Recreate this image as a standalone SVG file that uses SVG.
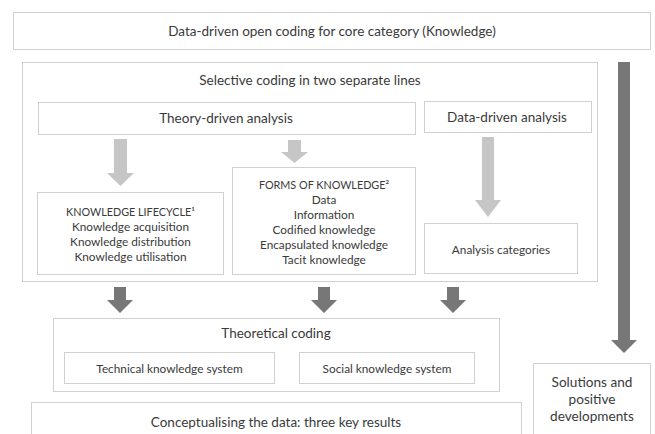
<svg xmlns="http://www.w3.org/2000/svg" width="655" height="434" viewBox="0 0 655 434">
<style>
.box{fill:#ffffff;stroke:#d0d0d0;stroke-width:1}
.t{font-family:Lato,"Open Sans","Liberation Sans",sans-serif;fill:#3a3a3a;text-anchor:middle;dominant-baseline:central}
.m{font-size:13.5px}
.s{font-size:11.8px}
.c{font-size:10.8px}
.l{font-size:13.6px}
.light{fill:#c6c6c6}
.dark{fill:#777777}
</style>
<rect x="0" y="0" width="655" height="434" fill="#ffffff"/>
<g id="open-coding">
<rect class="box" x="13.5" y="12.5" width="637" height="37"/>
<text class="t m" x="332" y="31">Data-driven open coding for core category (Knowledge)</text>
</g>
<g id="selective-coding">
<rect class="box" x="22.5" y="62.5" width="575" height="219"/>
<text class="t m" x="310" y="80">Selective coding in two separate lines</text>
</g>
<g id="theory-driven">
<rect class="box" x="38.5" y="102.5" width="377" height="32"/>
<text class="t m" x="226" y="118">Theory-driven analysis</text>
</g>
<g id="data-driven">
<rect class="box" x="424.5" y="101.5" width="167" height="31"/>
<text class="t m" x="507" y="117">Data-driven analysis</text>
</g>
<g id="lifecycle">
<rect class="box" x="37.5" y="192.5" width="186" height="82"/>
<text class="t c" x="130.5" y="211">KNOWLEDGE LIFECYCLE¹</text>
<text class="t s" x="130.5" y="226">Knowledge acquisition</text>
<text class="t s" x="130.5" y="241">Knowledge distribution</text>
<text class="t s" x="130.5" y="256">Knowledge utilisation</text>
</g>
<g id="forms">
<rect class="box" x="232.5" y="167.5" width="183" height="107"/>
<text class="t c" x="324" y="184">FORMS OF KNOWLEDGE²</text>
<text class="t s" x="324" y="199">Data</text>
<text class="t s" x="324" y="214">Information</text>
<text class="t s" x="324" y="229">Codified knowledge</text>
<text class="t s" x="324" y="244">Encapsulated knowledge</text>
<text class="t s" x="324" y="259">Tacit knowledge</text>
</g>
<g id="analysis-categories">
<rect class="box" x="424.5" y="223.5" width="153" height="50"/>
<text class="t s" x="501" y="249">Analysis categories</text>
</g>
<g id="theoretical-coding">
<rect class="box" x="53.5" y="318.5" width="446" height="73"/>
<text class="t m" x="276" y="333">Theoretical coding</text>
</g>
<g id="technical">
<rect class="box" x="64.5" y="352.5" width="210" height="31"/>
<text class="t s" x="169.5" y="368">Technical knowledge system</text>
</g>
<g id="social">
<rect class="box" x="299.5" y="352.5" width="175" height="31"/>
<text class="t s" x="387" y="368">Social knowledge system</text>
</g>
<g id="conceptualising">
<rect class="box" x="31.5" y="402.5" width="490" height="40"/>
<text class="t m" x="276" y="422">Conceptualising the data: three key results</text>
</g>
<g id="solutions">
<rect class="box" x="533.5" y="363.5" width="117" height="80"/>
<text class="t l" x="592" y="382">Solutions and</text>
<text class="t l" x="592" y="399">positive</text>
<text class="t l" x="592" y="416">developments</text>
</g>
<g id="connectors">
<polygon class="light" points="114,139 127,139 127,173 134,173 120.5,186 107,173 114,173"/>
<polygon class="light" points="288,140 301,140 301,152 308,152 294.5,163 281,152 288,152"/>
<polygon class="light" points="482,137 494,137 494,200 501,200 488,217 475,200 482,200"/>
<polygon class="dark" points="114,287 126,287 126,300 133,300 120,313 107,300 114,300"/>
<polygon class="dark" points="318,287 330,287 330,300 337,300 324,313 311,300 318,300"/>
<polygon class="dark" points="447,287 459,287 459,300 466,300 453,313 440,300 447,300"/>
<polygon class="dark" points="618,62 630,62 630,340 637,340 624,353 611,340 618,340"/>
</g>
</svg>
